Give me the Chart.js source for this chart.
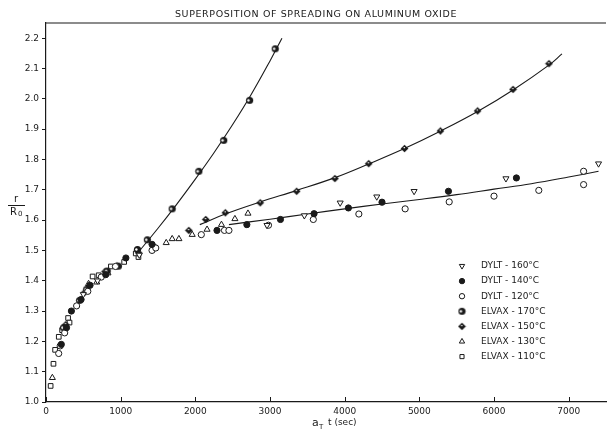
<!DOCTYPE html>
<html>
<head>
<meta charset="utf-8">
<title>Superposition of spreading on aluminum oxide</title>
<script src="https://cdn.jsdelivr.net/npm/chart.js@4.4.0/dist/chart.umd.min.js"></script>
<style>
  html, body { margin: 0; padding: 0; background: #fff; }
  #chart { display: block; }
</style>
</head>
<body>
<canvas id="chart" width="611" height="432"></canvas>
<script>
// axis ticks
const xTicks = [0, 1000, 2000, 3000, 4000, 5000, 6000, 7000];
const yTicks = [1.0, 1.1, 1.2, 1.3, 1.4, 1.5, 1.6, 1.7, 1.8, 1.9, 2.0, 2.1, 2.2];
const yTickLabels = ['1.0', '1.1', '1.2', '1.3', '1.4', '1.5', '1.6', '1.7', '1.8', '1.9', '2.0', '2.1', '2.2'];

const dylt160 = [[500, 1.355], [690, 1.400], [1250, 1.485], [2960, 1.583], [3460, 1.615], [3940, 1.657],
  [4430, 1.677], [4930, 1.695], [6160, 1.737], [7400, 1.786]];
const dylt140 = [[205, 1.190], [275, 1.245], [340, 1.300], [470, 1.338], [590, 1.385], [800, 1.420],
  [1070, 1.475], [1420, 1.520], [2290, 1.566], [2690, 1.585], [3140, 1.602], [3590, 1.621],
  [4050, 1.640], [4500, 1.659], [5390, 1.695], [6300, 1.739]];
const dylt120 = [[170, 1.160], [190, 1.185], [250, 1.228], [410, 1.317], [560, 1.365], [740, 1.412],
  [930, 1.447], [1420, 1.500], [1470, 1.508], [2080, 1.552], [2390, 1.566], [2450, 1.566],
  [2980, 1.583], [3580, 1.602], [4190, 1.620], [4810, 1.637], [5400, 1.660], [6000, 1.679],
  [6600, 1.698], [7200, 1.717], [7200, 1.761]];
const elvax170 = [[235, 1.245], [450, 1.335], [545, 1.372], [820, 1.432], [970, 1.448], [1225, 1.503],
  [1357, 1.535], [1690, 1.637], [2047, 1.761], [2380, 1.863], [2727, 1.995], [3070, 2.165]];
const elvax150 = [[265, 1.255], [520, 1.362], [790, 1.430], [950, 1.449], [1240, 1.492], [1440, 1.515],
  [1913, 1.566], [2140, 1.602], [2402, 1.624], [2869, 1.657], [3357, 1.695], [3869, 1.737],
  [4322, 1.786], [4802, 1.836], [5282, 1.894], [5780, 1.960], [6255, 2.031], [6736, 2.116]];
const elvax130 = [[85, 1.080], [570, 1.390], [680, 1.395], [830, 1.425], [1610, 1.525], [1690, 1.538],
  [1780, 1.538], [1958, 1.552], [2157, 1.569], [2350, 1.585], [2530, 1.604], [2705, 1.622]];
const elvax110 = [[62, 1.053], [100, 1.126], [122, 1.172], [171, 1.215], [216, 1.237], [296, 1.277],
  [315, 1.262], [624, 1.414], [705, 1.418], [869, 1.447], [1047, 1.462], [1238, 1.478], [1202, 1.490]];

// hand-drawn fit curves
const fitElvax170 = [[1240, 1.495], [1500, 1.573], [1750, 1.652], [2000, 1.735], [2250, 1.822],
  [2500, 1.915], [2750, 2.015], [3000, 2.125], [3160, 2.200]];
const fitElvax150 = [[2060, 1.585], [2400, 1.620], [2870, 1.660], [3360, 1.698], [3870, 1.740],
  [4320, 1.785], [4800, 1.836], [5280, 1.893], [5780, 1.958], [6260, 2.030], [6740, 2.112], [6910, 2.148]];
const fitLower = [[2450, 1.585], [3000, 1.603], [3500, 1.620], [4000, 1.637], [4500, 1.653],
  [5000, 1.668], [5500, 1.684], [6000, 1.702], [6500, 1.720], [7000, 1.742], [7400, 1.761]];

const INK = '#1a1a1a';
const FONT = '"DejaVu Sans", sans-serif';

function toXY(arr) {
  return arr.map(p => ({ x: p[0], y: p[1] }));
}

// half-filled markers for the ELVAX 170 / 150 series
function makeMarker(kind) {
  const c = document.createElement('canvas');
  c.width = 9; c.height = 9;
  const g = c.getContext('2d');
  g.fillStyle = INK;
  g.strokeStyle = INK;
  g.lineWidth = 1;
  if (kind === 'circle') {
    g.beginPath(); g.arc(4.5, 4.5, 3.6, 0, Math.PI * 2); g.fill();
    g.fillStyle = '#fff';
    g.beginPath(); g.arc(3.4, 4.5, 1.2, 0, Math.PI * 2); g.fill();
  } else {
    g.beginPath();
    g.moveTo(4.5, 0.8); g.lineTo(8.4, 4.5); g.lineTo(4.5, 8.2); g.lineTo(0.6, 4.5);
    g.closePath(); g.fill();
    g.fillStyle = '#fff';
    g.fillRect(3.6, 3.0, 1.4, 1.2);
  }
  return c;
}

function scatterSet(label, arr, style, filled, extra) {
  return Object.assign({
    label: label,
    data: toXY(arr),
    pointStyle: style,
    pointRadius: 3.1,
    pointBorderWidth: 1,
    borderColor: INK,
    backgroundColor: filled ? INK : '#fff',
    pointBackgroundColor: filled ? INK : '#fff',
    pointBorderColor: INK,
    showLine: false,
    order: 1
  }, extra || {});
}

function fitSet(arr) {
  return {
    label: '',
    data: toXY(arr),
    showLine: true,
    pointRadius: 0,
    borderColor: INK,
    borderWidth: 1.1,
    tension: 0.4,
    order: 5,
    isFit: true
  };
}

const datasets = [
  scatterSet('DYLT - 160°C', dylt160, 'triangle', false, { pointRotation: 180, pointRadius: 3.5 }),
  scatterSet('DYLT - 140°C', dylt140, 'circle', true),
  scatterSet('DYLT - 120°C', dylt120, 'circle', false),
  scatterSet('ELVAX - 170°C', elvax170, makeMarker('circle'), true),
  scatterSet('ELVAX - 150°C', elvax150, makeMarker('diamond'), true),
  scatterSet('ELVAX - 130°C', elvax130, 'triangle', false, { pointRadius: 3.5 }),
  scatterSet('ELVAX - 110°C', elvax110, 'rect', false, { pointRadius: 3.3 }),
  fitSet(fitElvax170),
  fitSet(fitElvax150),
  fitSet(fitLower)
];

// title, axis titles, frame, inside x ticks and the legend
const decorPlugin = {
  id: 'decor',
  afterDraw(chart) {
    const ctx = chart.ctx;
    const area = chart.chartArea;
    const xs = chart.scales.x;
    ctx.save();
    ctx.strokeStyle = INK;
    ctx.fillStyle = INK;

    // top frame line
    ctx.lineWidth = 1.2;
    ctx.beginPath();
    ctx.moveTo(area.left, area.top);
    ctx.lineTo(area.right, area.top);
    ctx.stroke();

    // x tick marks point into the plot
    ctx.lineWidth = 1;
    xTicks.forEach(v => {
      const px = Math.round(xs.getPixelForValue(v)) + 0.5;
      ctx.beginPath();
      ctx.moveTo(px, area.bottom);
      ctx.lineTo(px, area.bottom - 5);
      ctx.stroke();
    });

    // title
    ctx.font = '9.5px ' + FONT;
    ctx.textAlign = 'center';
    ctx.textBaseline = 'middle';
    ctx.letterSpacing = '0.6px';
    ctx.fillText('SUPERPOSITION OF SPREADING ON ALUMINUM OXIDE', 316, 15);
    ctx.letterSpacing = '0px';

    // y axis title r / R0
    ctx.font = '10px ' + FONT;
    ctx.fillText('r', 16, 199);
    ctx.beginPath();
    ctx.moveTo(8, 205.5);
    ctx.lineTo(25, 205.5);
    ctx.stroke();
    ctx.textAlign = 'left';
    ctx.fillText('R', 10, 212);
    ctx.font = '7px ' + FONT;
    ctx.fillText('0', 18, 214);

    // x axis title aT t(sec)
    ctx.font = '11px ' + FONT;
    ctx.fillText('a', 312, 423);
    ctx.font = '7px ' + FONT;
    ctx.fillText('T', 319, 427);
    ctx.font = '9px ' + FONT;
    ctx.fillText('t (sec)', 328, 423);

    // legend
    const lx = 462, ly = 266, step = 15.1;
    let row = 0;
    chart.data.datasets.forEach(ds => {
      if (ds.isFit) return;
      const y = ly + row * step;
      ctx.fillStyle = ds.pointBackgroundColor;
      ctx.strokeStyle = ds.pointBorderColor;
      ctx.lineWidth = 1;
      Chart.helpers.drawPoint(ctx, {
        pointStyle: ds.pointStyle,
        radius: ds.pointRadius - 0.4,
        rotation: ds.pointRotation || 0,
        borderWidth: 1
      }, lx, y);
      ctx.fillStyle = INK;
      ctx.font = '9px ' + FONT;
      ctx.textAlign = 'left';
      ctx.fillText(ds.label, lx + 19, y);
      row++;
    });
    ctx.restore();
  }
};

const chart = new Chart(document.getElementById('chart').getContext('2d'), {
  type: 'scatter',
  data: { datasets: datasets },
  plugins: [decorPlugin],
  options: {
    responsive: false,
    animation: false,
    layout: { padding: { top: 23, right: 2, left: 0, bottom: 0 } },
    plugins: {
      legend: { display: false },
      tooltip: { enabled: false },
      title: { display: false }
    },
    scales: {
      x: {
        type: 'linear',
        min: 0,
        max: 7500,
        afterFit: s => { s.height = 30; },
        afterBuildTicks: s => { s.ticks = xTicks.map(v => ({ value: v })); },
        grid: { display: false, drawTicks: false, tickLength: 0 },
        border: { display: true, color: INK, width: 1.2 },
        ticks: {
          color: INK,
          padding: 4,
          maxRotation: 0,
          font: { family: FONT, size: 9 },
          callback: v => String(v)
        }
      },
      y: {
        type: 'linear',
        min: 1.0,
        max: 2.25,
        afterFit: s => { s.width = 46; },
        afterBuildTicks: s => { s.ticks = yTicks.map(v => ({ value: v })); },
        grid: { drawOnChartArea: false, drawTicks: true, tickLength: 4, color: INK },
        border: { display: true, color: INK, width: 1.2 },
        ticks: {
          color: INK,
          padding: 3,
          font: { family: FONT, size: 9 },
          callback: function (v) {
            const i = yTicks.findIndex(t => Math.abs(t - v) < 1e-6);
            return i >= 0 ? yTickLabels[i] : '';
          }
        }
      }
    }
  }
});
</script>
</body>
</html>
